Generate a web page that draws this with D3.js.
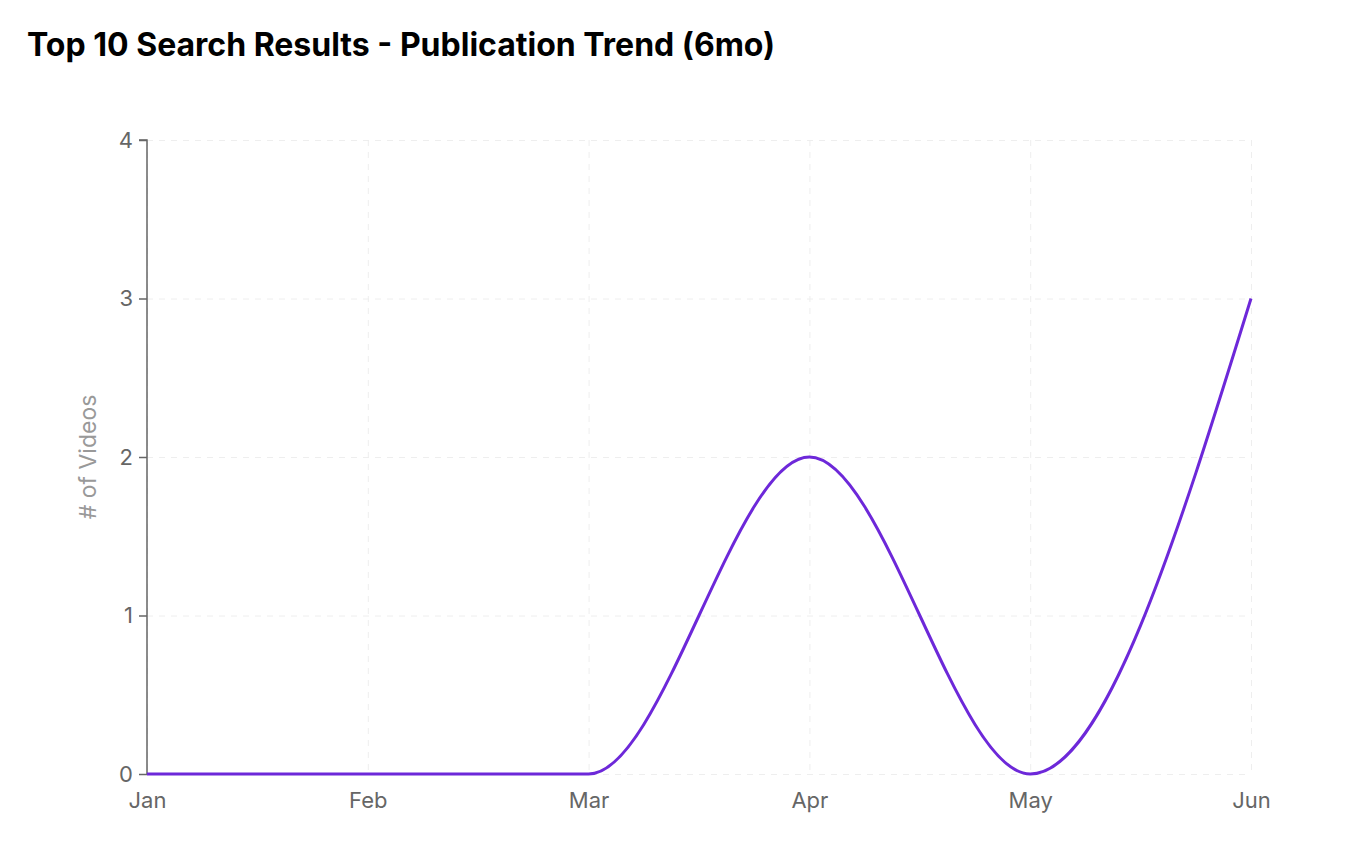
<!DOCTYPE html>
<html>
<head>
<meta charset="utf-8">
<script src="https://d3js.org/d3.v7.min.js"></script>
<style>
  body { margin: 0; background: #fff; font-family: Inter, sans-serif; }
  h1 { position: absolute; left: 27px; top: 25px; margin: 0; font-size: 32px; line-height: 40px; font-weight: 700; color: #000; letter-spacing: 0; }
  .grid line { stroke: #eee; stroke-dasharray: 6 6; }
  .grid .domain { display: none; }
  .axis text { font-family: Inter, sans-serif; font-size: 22px; fill: #666; }
</style>
</head>
<body>
<h1>Top 10 Search Results - Publication Trend (6mo)</h1>
<svg id="chart" width="1354" height="848"></svg>
<script>
const months = ["Jan", "Feb", "Mar", "Apr", "May", "Jun"];
const videos = [0, 0, 0, 2, 0, 3];
const yTicks = [0, 1, 2, 3, 4];

const svg = d3.select("#chart");
const margin = { left: 147, right: 103, top: 140, bottom: 74 };
const width = +svg.attr("width"), height = +svg.attr("height");

const x = d3.scalePoint().domain(months).range([margin.left, width - margin.right]);
const y = d3.scaleLinear().domain([0, 4]).range([height - margin.bottom, margin.top]);

// gridlines
svg.append("g").attr("class", "grid")
  .attr("transform", `translate(0,${margin.top})`)
  .call(d3.axisBottom(x).tickSize(height - margin.bottom - margin.top).tickFormat(""));
svg.append("g").attr("class", "grid")
  .attr("transform", `translate(${margin.left},0)`)
  .call(d3.axisRight(y).tickValues(yTicks).tickSize(width - margin.right - margin.left).tickFormat(""));

// y axis
const yAxis = svg.append("g").attr("class", "axis")
  .attr("transform", `translate(${margin.left},0)`)
  .call(d3.axisLeft(y).tickValues(yTicks).tickFormat(d3.format("d")).tickSize(8).tickPadding(6));
yAxis.selectAll("line, path").attr("stroke", "#666").attr("stroke-width", 1.5);
yAxis.select("path.domain").attr("d", `M-8,${y(4)}H0V${y(0)}`);

// x axis (labels only)
const xAxis = svg.append("g").attr("class", "axis")
  .attr("transform", `translate(0,${height - margin.bottom})`)
  .call(d3.axisBottom(x).tickSize(0).tickPadding(18));
xAxis.select(".domain").remove();

// y label
svg.append("text")
  .attr("transform", `translate(96,${(y(0) + y(4)) / 2}) rotate(-90)`)
  .attr("text-anchor", "middle")
  .style("font-size", "23px").style("fill", "#999")
  .text("# of Videos");

// line
const line = d3.line()
  .x((d, i) => x(months[i]))
  .y(d => y(d))
  .curve(d3.curveMonotoneX);
svg.append("path")
  .datum(videos)
  .attr("d", line)
  .attr("fill", "none")
  .attr("stroke", "#6d28d9")
  .attr("stroke-width", 3);
</script>
</body>
</html>
